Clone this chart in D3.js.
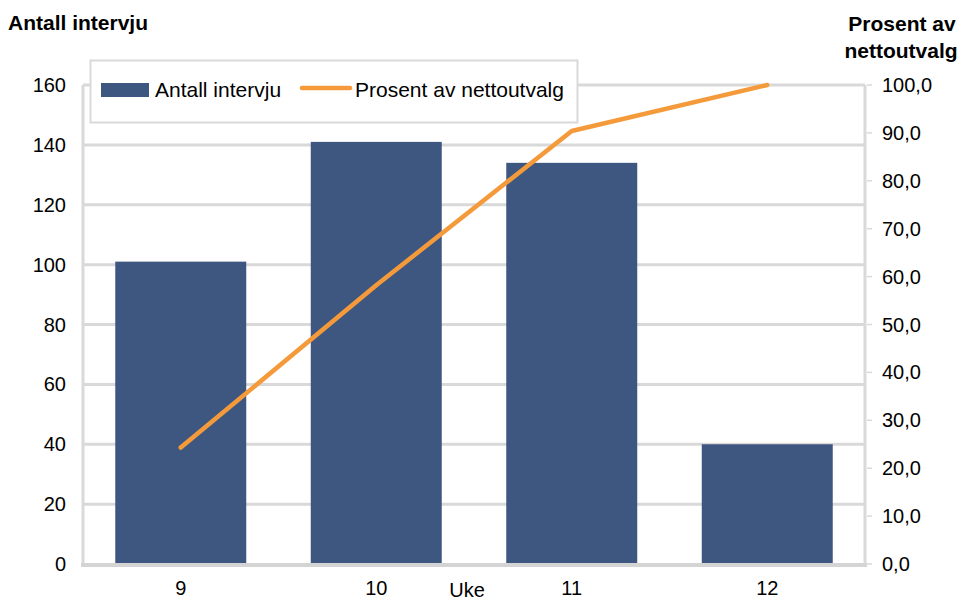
<!DOCTYPE html>
<html><head><meta charset="utf-8">
<script src="https://cdn.jsdelivr.net/npm/d3@7/dist/d3.min.js"></script>
<style>
body{margin:0;background:#fff;}
text{font-family:"Liberation Sans",Arial,sans-serif;fill:#000;}
</style></head>
<body><svg id="c" width="963" height="601"></svg>
<script>
const weeks = ["9","10","11","12"];
const interviews = [101, 141, 134, 40];
const percent = [24.3, 58.2, 90.4, 100.0];
const leftTicks = [0,20,40,60,80,100,120,140,160];
const rightTicks = [0,10,20,30,40,50,60,70,80,90,100];

const svg = d3.select("#c");
const L = 83, R = 865, T = 85, B = 564;
const x = d3.scaleBand().domain(weeks).range([L, R]).paddingInner(0.33).paddingOuter(0.165);
const yL = d3.scaleLinear().domain([0,160]).range([B, T]);
const yR = d3.scaleLinear().domain([0,100]).range([B, T]);
const grid = "#d9d9d9";

// gridlines
svg.append("g").selectAll("line").data(leftTicks.filter(d=>d>0)).join("line")
  .attr("x1", L).attr("x2", R).attr("y1", d=>yL(d)).attr("y2", d=>yL(d))
  .attr("stroke", grid).attr("stroke-width", 3);

// axes lines
svg.append("line").attr("x1", L).attr("x2", L).attr("y1", T).attr("y2", B+2).attr("stroke", grid).attr("stroke-width", 3);
svg.append("line").attr("x1", R).attr("x2", R).attr("y1", T).attr("y2", B+2).attr("stroke", grid).attr("stroke-width", 3);

// bars
svg.append("g").selectAll("rect").data(weeks).join("rect")
  .attr("x", d=>x(d)).attr("width", x.bandwidth())
  .attr("y", (d,i)=>yL(interviews[i])).attr("height", (d,i)=>B - yL(interviews[i]))
  .attr("fill", "#3E5780");

// bottom axis line
svg.append("line").attr("x1", L-2).attr("x2", R+2).attr("y1", B+1).attr("y2", B+1).attr("stroke", "#d4d4d4").attr("stroke-width", 4);

// right tick marks
svg.append("g").selectAll("line").data(rightTicks).join("line")
  .attr("x1", R+2).attr("x2", R+7).attr("y1", d=>yR(d)).attr("y2", d=>yR(d))
  .attr("stroke", grid).attr("stroke-width", 1.5);

// line
const line = d3.line().x((d,i)=>x(weeks[i]) + x.bandwidth()/2).y(d=>yR(d));
svg.append("path").datum(percent).attr("d", line).attr("fill","none")
  .attr("stroke", "#F59A3A").attr("stroke-width", 4.5).attr("stroke-linecap","round").attr("stroke-linejoin","round");

// left tick labels
svg.append("g").selectAll("text").data(leftTicks).join("text")
  .attr("x", 66).attr("y", d=>yL(d)).attr("dy","0.35em").attr("text-anchor","end")
  .style("font-size","20px").text(d=>d);
// right tick labels
svg.append("g").selectAll("text").data(rightTicks).join("text")
  .attr("x", 882).attr("y", d=>yR(d)).attr("dy","0.35em").attr("text-anchor","start")
  .style("font-size","20px").text(d=>d3.format(".1f")(d).replace(".", ","));
// x labels
svg.append("g").selectAll("text").data(weeks).join("text")
  .attr("x", d=>x(d)+x.bandwidth()/2).attr("y", 595).attr("text-anchor","middle")
  .style("font-size","20px").text(d=>d);
svg.append("text").attr("x", 467).attr("y", 597).attr("text-anchor","middle").style("font-size","20px").text("Uke");

// titles
svg.append("text").attr("x", 8).attr("y", 30).style("font-size","21px").style("font-weight","bold").text("Antall intervju");
svg.append("text").attr("x", 902).attr("y", 31).attr("text-anchor","middle").style("font-size","21px").style("font-weight","bold").text("Prosent av");
svg.append("text").attr("x", 901).attr("y", 58).attr("text-anchor","middle").style("font-size","21px").style("font-weight","bold").text("nettoutvalg");

// legend
const lg = svg.append("g");
lg.append("rect").attr("x", 90.5).attr("y", 60.5).attr("width", 487).attr("height", 62)
  .attr("fill","#fff").attr("stroke", grid).attr("stroke-width", 2);
lg.append("rect").attr("x", 101).attr("y", 83).attr("width", 48).attr("height", 14).attr("fill","#3E5780");
lg.append("text").attr("x", 155).attr("y", 90).attr("dy","0.35em").style("font-size","21px").text("Antall intervju");
lg.append("line").attr("x1", 302).attr("x2", 350).attr("y1", 88).attr("y2", 88).attr("stroke","#F59A3A").attr("stroke-width",4.5).attr("stroke-linecap","round");
lg.append("text").attr("x", 355).attr("y", 90).attr("dy","0.35em").style("font-size","21px").text("Prosent av nettoutvalg");
</script></body></html>
